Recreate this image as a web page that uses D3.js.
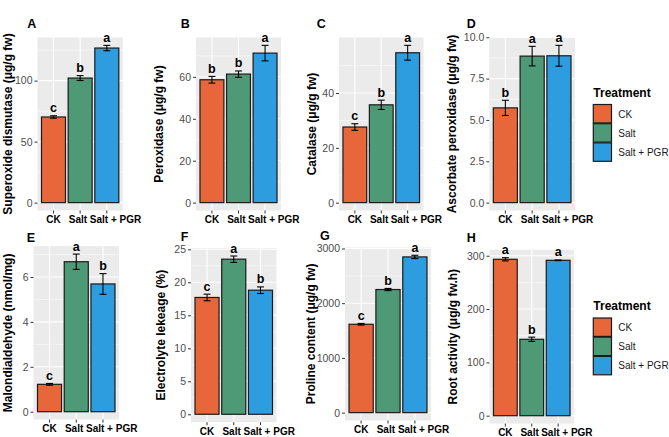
<!DOCTYPE html>
<html>
<head>
<meta charset="utf-8">
<script src="https://cdn.jsdelivr.net/npm/d3@7"></script>
<style>
  body { margin: 0; background: #fff; }
  svg text { font-family: "Liberation Sans", Arial, Helvetica, sans-serif; }
</style>
</head>
<body>
<div id="chart"></div>
<script>
// groups
var treatments = ["CK", "Salt", "Salt + PGR"];
var treatmentColors = ["#E8673A", "#4F9A76", "#2D9DDF"];

// values (mean, error, letters)
var sodMean = [70.2, 102.1, 126.7],  sodErr = [1.0, 2.0, 2.2],   sodSig = ["c", "b", "a"];
var podMean = [58.6, 61.3, 71.3],    podErr = [1.6, 1.5, 3.7],   podSig = ["b", "b", "a"];
var catMean = [27.6, 35.7, 54.7],    catErr = [1.2, 1.7, 2.7],   catSig = ["c", "b", "a"];
var apxMean = [5.73, 8.86, 8.88],    apxErr = [0.46, 0.59, 0.63], apxSig = ["b", "a", "a"];
var mdaMean = [1.22, 6.68, 5.69],    mdaErr = [0.04, 0.34, 0.46], mdaSig = ["c", "a", "b"];
var elMean  = [17.7, 23.5, 18.8],    elErr  = [0.5, 0.48, 0.5],  elSig  = ["c", "a", "b"];
var proMean = [1615, 2250, 2846],    proErr = [15, 20, 30],      proSig = ["c", "b", "a"];
var raMean  = [293.3, 143.3, 291.4], raErr  = [3, 4, 0.6],       raSig  = ["a", "b", "a"];

// tick labels
var sodTicks = [0, 50, 100];
var podTicks = [0, 20, 40, 60];
var catTicks = [0, 20, 40];
var apxTicks = [0, 2.5, 5, 7.5, 10];
var mdaTicks = [0, 2, 4, 6];
var elTicks  = [0, 5, 10, 15, 20, 25];
var proTicks = [0, 1000, 2000, 3000];
var raTicks  = [0, 100, 200, 300];

var panels = [
  {tag: "A", title: "Superoxide dismutase (\u03bcg/g fw)", mean: sodMean, err: sodErr, sig: sodSig, ticks: sodTicks, fmt: d3.format("d")},
  {tag: "B", title: "Peroxidase (\u03bcg/g fw)", mean: podMean, err: podErr, sig: podSig, ticks: podTicks, fmt: d3.format("d")},
  {tag: "C", title: "Catalase (\u03bcg/g fw)", mean: catMean, err: catErr, sig: catSig, ticks: catTicks, fmt: d3.format("d")},
  {tag: "D", title: "Ascorbate peroxidase (\u03bcg/g fw)", mean: apxMean, err: apxErr, sig: apxSig, ticks: apxTicks, fmt: d3.format(".1f")},
  {tag: "E", title: "Malondialdehyde (nmol/mg)", mean: mdaMean, err: mdaErr, sig: mdaSig, ticks: mdaTicks, fmt: d3.format("d")},
  {tag: "F", title: "Electrolyte lekeage (%)", mean: elMean, err: elErr, sig: elSig, ticks: elTicks, fmt: d3.format("d")},
  {tag: "G", title: "Proline content (\u03bcg/g fw)", mean: proMean, err: proErr, sig: proSig, ticks: proTicks, fmt: d3.format("d")},
  {tag: "H", title: "Root activity (\u03bcg/g fw.h)", mean: raMean, err: raErr, sig: raSig, ticks: raTicks, fmt: d3.format("d")}
];

// panel boxes: grey area, tag position, y title x
var layout = [
  {x0: 37.5, x1: 122.8, y0: 37.5,  y1: 210.5, tx: 27.3,  ty: 27.5,  ax: 8},
  {x0: 196,  x1: 281,   y0: 37.5,  y1: 210.5, tx: 180.7, ty: 27.5,  ax: 159},
  {x0: 339,  x1: 423.5, y0: 37.5,  y1: 210.5, tx: 316.7, ty: 27.5,  ax: 312},
  {x0: 489.3,x1: 575,   y0: 37.5,  y1: 210.5, tx: 466.7, ty: 27.5,  ax: 452},
  {x0: 33.5, x1: 119,   y0: 246.2, y1: 419.6, tx: 26.7,  ty: 241.7, ax: 8.5},
  {x0: 191,  x1: 276.5, y0: 248.1, y1: 422.2, tx: 180.7, ty: 240.5, ax: 161},
  {x0: 345,  x1: 431,   y0: 247.4, y1: 420.5, tx: 320,   ty: 239.5, ax: 311},
  {x0: 489.5,x1: 574,   y0: 249.8, y1: 423.6, tx: 466.7, ty: 241.7, ax: 453}
];

var svg = d3.select("#chart").append("svg")
    .attr("width", 669)
    .attr("height", 437);

panels.forEach(function(p, k){
  var L = layout[k];
  var rows = treatments.map(function(t, i){
    return {t: t, mean: p.mean[i], err: p.err[i], sig: p.sig[i], color: treatmentColors[i]};
  });
  var M = d3.max(rows, function(d){ return d.mean + d.err; });

  var x = d3.scaleBand().domain(treatments).range([L.x0, L.x1])
      .paddingInner(0.1).paddingOuter(0.15);
  var y = d3.scaleLinear().domain([-0.05 * M, 1.05 * M]).range([L.y1, L.y0]);

  var g = svg.append("g");

  g.append("rect")
    .attr("x", L.x0).attr("y", L.y0)
    .attr("width", L.x1 - L.x0).attr("height", L.y1 - L.y0)
    .attr("fill", "#EBEBEB");

  // minor grid
  var step = p.ticks[1] - p.ticks[0];
  var minor = d3.range(p.ticks[0] - step / 2, 1.05 * M, step).filter(function(v){ return v > -0.05 * M; });
  g.selectAll(".minor").data(minor).enter().append("line")
    .attr("x1", L.x0).attr("x2", L.x1)
    .attr("y1", function(d){ return y(d); }).attr("y2", function(d){ return y(d); })
    .attr("stroke", "#fff").attr("stroke-width", 0.5);

  // major grid
  g.selectAll(".major").data(p.ticks).enter().append("line")
    .attr("x1", L.x0).attr("x2", L.x1)
    .attr("y1", function(d){ return y(d); }).attr("y2", function(d){ return y(d); })
    .attr("stroke", "#fff").attr("stroke-width", 1.1);
  g.selectAll(".vgrid").data(treatments).enter().append("line")
    .attr("x1", function(d){ return x(d) + x.bandwidth() / 2; })
    .attr("x2", function(d){ return x(d) + x.bandwidth() / 2; })
    .attr("y1", L.y0).attr("y2", L.y1)
    .attr("stroke", "#fff").attr("stroke-width", 1.1);

  // bars
  g.selectAll(".bar").data(rows).enter().append("rect")
    .attr("x", function(d){ return x(d.t); })
    .attr("width", x.bandwidth())
    .attr("y", function(d){ return y(d.mean); })
    .attr("height", function(d){ return y(0) - y(d.mean); })
    .attr("fill", function(d){ return d.color; })
    .attr("stroke", "#1a1a1a").attr("stroke-width", 1.2);

  // error bars
  var cap = x.step() * 0.13;
  var eb = g.selectAll(".eb").data(rows).enter().append("g")
    .attr("stroke", "#000").attr("stroke-width", 1.1);
  eb.append("line")
    .attr("x1", function(d){ return x(d.t) + x.bandwidth() / 2; })
    .attr("x2", function(d){ return x(d.t) + x.bandwidth() / 2; })
    .attr("y1", function(d){ return y(d.mean - d.err); })
    .attr("y2", function(d){ return y(d.mean + d.err); });
  eb.append("line")
    .attr("x1", function(d){ return x(d.t) + x.bandwidth() / 2 - cap; })
    .attr("x2", function(d){ return x(d.t) + x.bandwidth() / 2 + cap; })
    .attr("y1", function(d){ return y(d.mean + d.err); })
    .attr("y2", function(d){ return y(d.mean + d.err); });
  eb.append("line")
    .attr("x1", function(d){ return x(d.t) + x.bandwidth() / 2 - cap; })
    .attr("x2", function(d){ return x(d.t) + x.bandwidth() / 2 + cap; })
    .attr("y1", function(d){ return y(d.mean - d.err); })
    .attr("y2", function(d){ return y(d.mean - d.err); });

  // significance letters
  g.selectAll(".sig").data(rows).enter().append("text")
    .attr("x", function(d){ return x(d.t) + x.bandwidth() / 2; })
    .attr("y", function(d){ return y(d.mean + d.err) - 3.5; })
    .attr("text-anchor", "middle")
    .style("font-size", "12.5px").style("font-weight", "bold")
    .text(function(d){ return d.sig; });

  // y axis
  var yAxis = d3.axisLeft(y).tickValues(p.ticks).tickFormat(p.fmt).tickSize(3).tickPadding(2);
  var gy = g.append("g").attr("transform", "translate(" + L.x0 + ",0)").call(yAxis);
  gy.select(".domain").remove();
  gy.selectAll("line").attr("stroke", "#333");
  gy.selectAll("text").attr("fill", "#4D4D4D").style("font-size", "10.5px");

  // x axis
  var xAxis = d3.axisBottom(x).tickSize(3).tickPadding(3);
  var gx = g.append("g").attr("transform", "translate(0," + L.y1 + ")").call(xAxis);
  gx.select(".domain").remove();
  gx.selectAll("line").attr("stroke", "#333");
  gx.selectAll("text")
    .attr("fill", "#000")
    .style("font-size", "10px").style("font-weight", "bold")
    .attr("dy", "0.65em")
    .attr("text-anchor", function(d, i){ return i === 0 ? "middle" : (i === 1 ? "end" : "start"); })
    .attr("dx", function(d, i){ return i === 0 ? 0 : (i === 1 ? 7 : -17); });

  // axis title
  g.append("text")
    .attr("transform", "translate(" + (L.ax + 3.5) + "," + ((L.y0 + L.y1) / 2) + ") rotate(-90)")
    .attr("text-anchor", "middle")
    .style("font-size", "12px").style("font-weight", "bold")
    .text(p.title);

  // tag
  g.append("text")
    .attr("x", L.tx).attr("y", L.ty)
    .style("font-size", "12.5px").style("font-weight", "bold")
    .text(p.tag);
});

// legends beside D and H
var legendTops = [96.5, 310];
legendTops.forEach(function(top){
  var lg = svg.append("g").attr("transform", "translate(593.3," + top + ")");
  lg.append("text")
    .attr("x", 0).attr("y", 0)
    .style("font-size", "12px").style("font-weight", "bold")
    .text("Treatment");
  var items = lg.selectAll(".item").data(treatments).enter().append("g")
    .attr("transform", function(d, i){ return "translate(0," + (8 + i * 19.2) + ")"; });
  items.append("rect")
    .attr("width", 18.2).attr("height", 18.4)
    .attr("fill", function(d, i){ return treatmentColors[i]; })
    .attr("stroke", "#1a1a1a").attr("stroke-width", 1.2);
  items.append("text")
    .attr("x", 25).attr("y", 13)
    .style("font-size", "10px")
    .attr("fill", "#1a1a1a")
    .text(function(d){ return d; });
});
</script>
</body>
</html>
